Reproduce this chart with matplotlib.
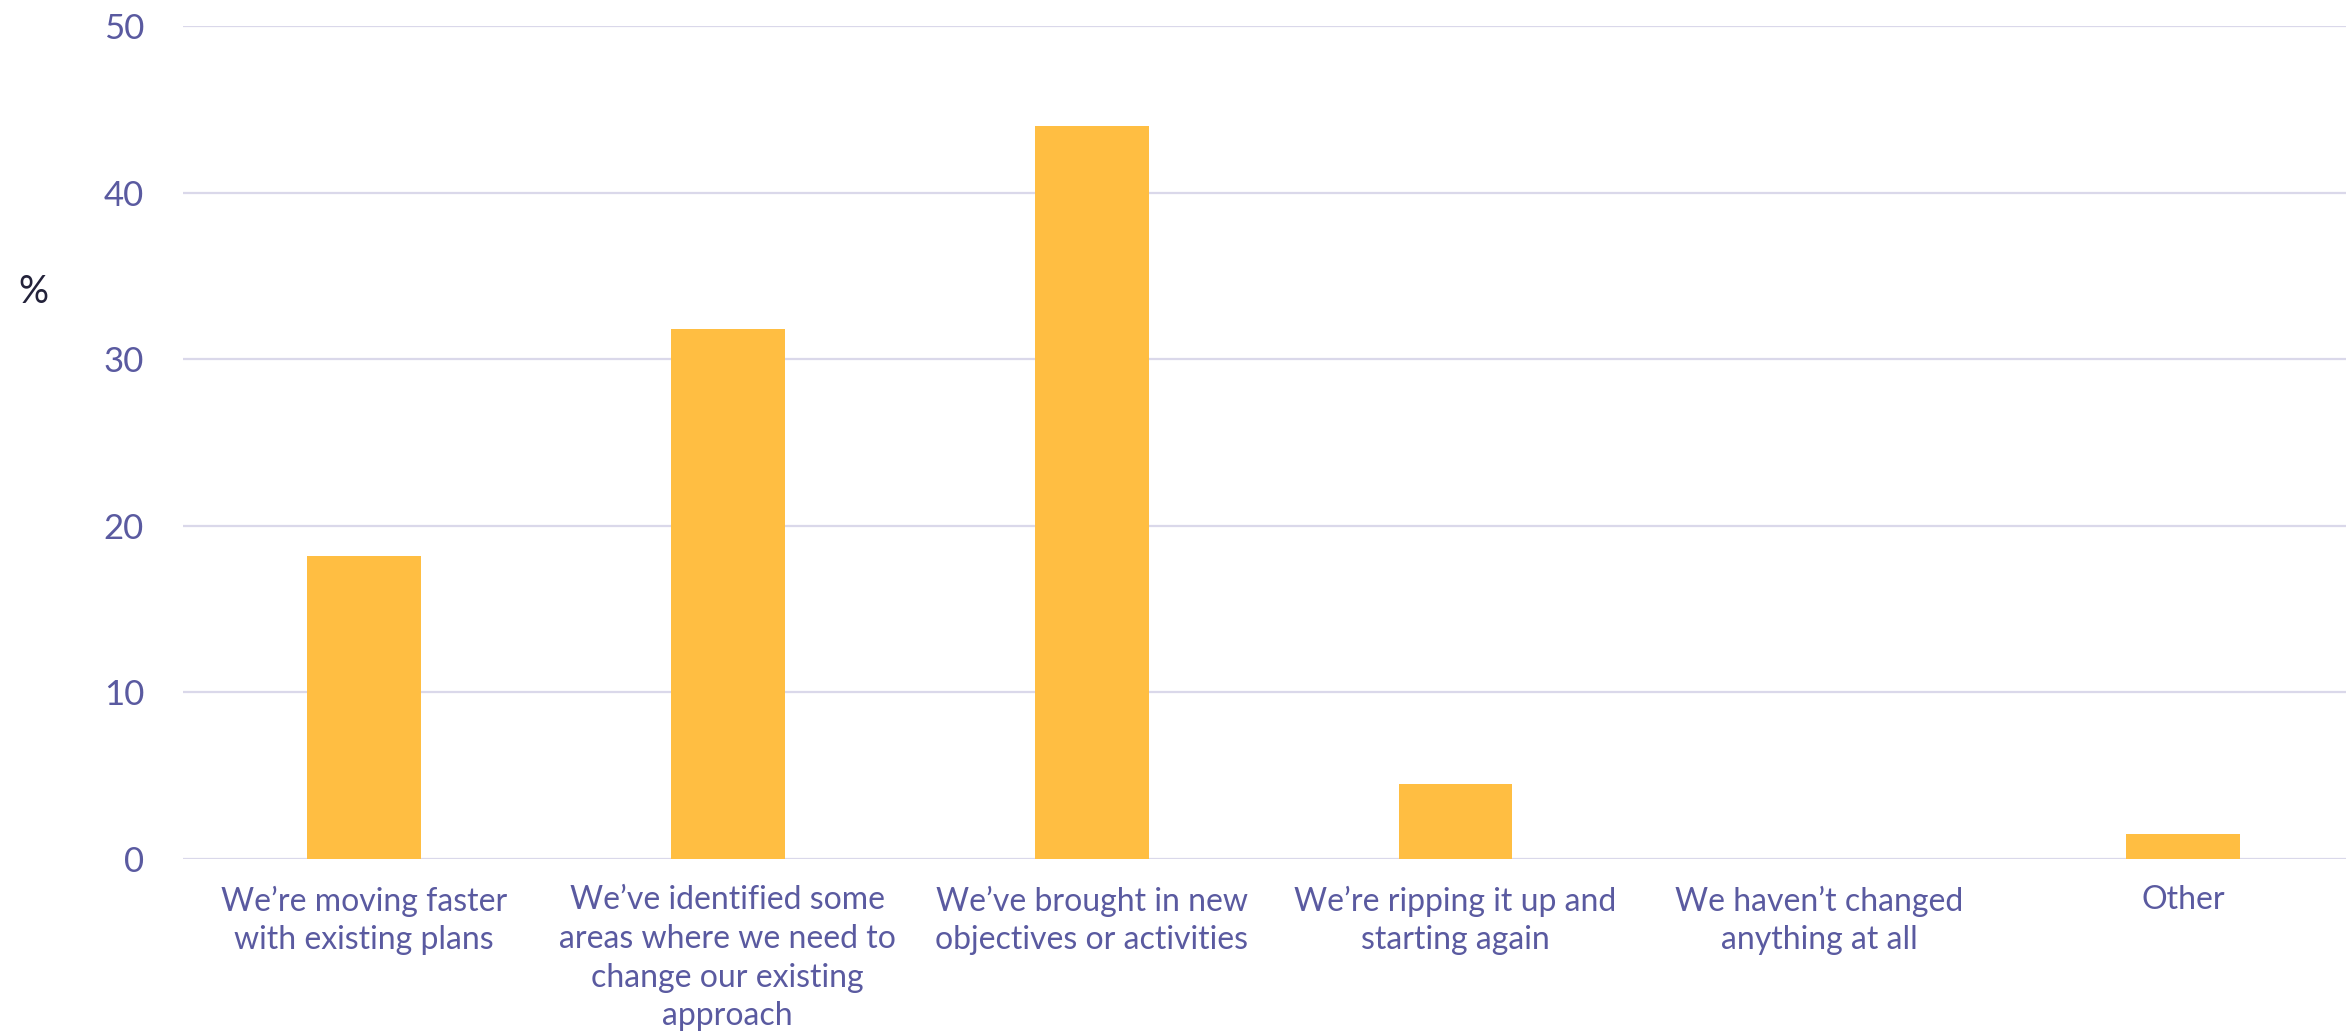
import matplotlib
matplotlib.use("Agg")
import matplotlib.pyplot as plt

# Survey responses: how organisations changed their plans
categories = [
    "We\u2019re moving faster\nwith existing plans",
    "We\u2019ve identified some\nareas where we need to\nchange our existing\napproach",
    "We\u2019ve brought in new\nobjectives or activities",
    "We\u2019re ripping it up and\nstarting again",
    "We haven\u2019t changed\nanything at all",
    "Other",
]
values = [18.2, 31.8, 44.0, 4.5, 0.0, 1.5]
y_ticks = [0, 10, 20, 30, 40, 50]

BAR_COLOR = "#FFBE42"
TEXT_COLOR = "#5A5AA0"
GRID_COLOR = "#DAD8EA"

plt.rcParams["font.family"] = ["Lato", "DejaVu Sans"]

fig = plt.figure(figsize=(23.46, 10.34), dpi=100)
ax = fig.add_axes([0.078, 0.1692, 0.922, 0.8057])

x = list(range(len(categories)))
ax.bar(x, values, width=0.313, color=BAR_COLOR, zorder=3)

ax.set_xlim(-0.497, 5.447)
ax.set_ylim(0, 50)
ax.set_yticks(y_ticks)
ax.set_yticklabels([str(t) for t in y_ticks], fontsize=25)
ax.set_xticks(x)
ax.set_xticklabels(categories, multialignment="center", linespacing=1.36,
                   fontsize=23)

ax.yaxis.grid(True, color=GRID_COLOR, linewidth=1.6, zorder=0)
ax.set_axisbelow(True)
for s in ax.spines.values():
    s.set_visible(False)

ax.tick_params(axis="both", length=0, labelcolor=TEXT_COLOR)
ax.tick_params(axis="y", pad=28)
ax.tick_params(axis="x", pad=19)

fig.text(33 / 2346, 1 - 292 / 1034, "%", ha="center", va="center",
         fontsize=27, color="#23223A")

fig.savefig("out.png", dpi=100, facecolor="white")
